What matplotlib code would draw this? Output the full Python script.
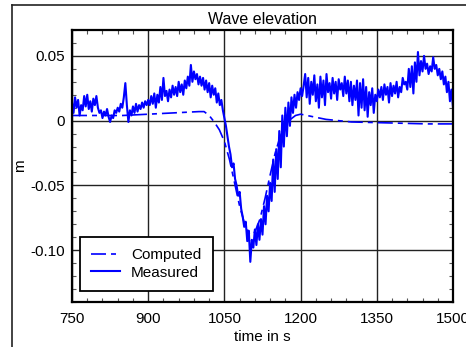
import numpy as np
import matplotlib
matplotlib.use("Agg")
import matplotlib.pyplot as plt
from matplotlib.lines import Line2D
from matplotlib.ticker import MultipleLocator

plt.rcParams['font.family'] = ['Liberation Sans', 'DejaVu Sans']
plt.rcParams['font.size'] = 11

# measured wave elevation, sampled every 3 s from 750 s to 1500 s
t_measured = np.arange(750, 1501, 3)
measured = [
    0.014, 0.006, 0.018, 0.010, 0.016, 0.004, 0.012, 0.008, 0.019, 0.011, 0.020, 0.009, 0.015, 0.007, 0.017, 0.012, 0.019,
    0.010, 0.006, 0.008, 0.002, 0.007, 0.004, 0.009, 0.003, -0.001, 0.004, 0.002, 0.008, 0.006, 0.010, 0.007, 0.013, 0.010,
    0.018, 0.029, 0.012, -0.001, 0.008, 0.004, 0.011, 0.006, 0.013, 0.007, 0.012, 0.009, 0.014, 0.010, 0.015, 0.012, 0.016,
    0.012, 0.019, 0.013, 0.021, 0.010, 0.020, 0.014, 0.026, 0.016, 0.033, 0.019, 0.023, 0.015, 0.024, 0.018, 0.027, 0.020,
    0.026, 0.019, 0.030, 0.022, 0.028, 0.020, 0.031, 0.025, 0.034, 0.027, 0.043, 0.030, 0.038, 0.032, 0.036, 0.028, 0.034,
    0.027, 0.033, 0.024, 0.031, 0.022, 0.029, 0.018, 0.027, 0.020, 0.025, 0.014, 0.021, 0.012, 0.016, 0.008, 0.002, -0.004,
    -0.012, -0.020, -0.026, -0.036, -0.033, -0.045, -0.050, -0.058, -0.055, -0.068, -0.074, -0.082, -0.078, -0.093, -0.085, -0.109, -0.092,
    -0.098, -0.084, -0.096, -0.080, -0.092, -0.076, -0.088, -0.066, -0.080, -0.058, -0.070, -0.048, -0.062, -0.030, -0.055, -0.022, -0.045,
    -0.008, -0.036, 0.004, -0.020, 0.010, -0.012, 0.014, -0.004, 0.018, 0.006, 0.020, 0.010, 0.022, 0.016, 0.025, 0.019, 0.027,
    0.036, 0.018, 0.033, 0.013, 0.030, 0.020, 0.035, 0.015, 0.028, 0.010, 0.034, 0.018, 0.031, 0.012, 0.036, 0.022, 0.029,
    0.017, 0.033, 0.021, 0.030, 0.016, 0.032, 0.024, 0.029, 0.019, 0.034, 0.021, 0.031, 0.015, 0.030, 0.012, 0.027, 0.016,
    0.031, 0.004, 0.029, 0.010, 0.032, 0.008, 0.026, 0.003, 0.022, 0.012, 0.025, 0.006, 0.020, 0.015, 0.024, 0.018, 0.026,
    0.016, 0.028, 0.020, 0.026, 0.014, 0.029, 0.019, 0.027, 0.021, 0.030, 0.018, 0.026, 0.022, 0.033, 0.028, 0.030, 0.024,
    0.040, 0.026, 0.042, 0.021, 0.045, 0.030, 0.053, 0.035, 0.046, 0.038, 0.050, 0.040, 0.044, 0.036, 0.042, 0.038, 0.049,
    0.040, 0.043, 0.035, 0.040, 0.032, 0.038, 0.028, 0.034, 0.022, 0.030, 0.015, 0.024, 0.010,
]

# computed wave elevation
t_computed = [750, 800, 850, 900, 950, 1000, 1010, 1020, 1030, 1040, 1050, 1060, 1070,
              1080, 1090, 1100, 1110, 1120, 1130, 1140, 1150, 1160, 1170, 1180, 1190,
              1200, 1225, 1250, 1300, 1350, 1400, 1450, 1500]
computed = [0.004, 0.004, 0.004, 0.005, 0.006, 0.007, 0.007, 0.004, -0.001, -0.007,
            -0.016, -0.030, -0.048, -0.066, -0.080, -0.088, -0.086, -0.076, -0.060,
            -0.042, -0.025, -0.012, -0.004, 0.001, 0.004, 0.005, 0.003, 0.001, -0.001,
            -0.0015, -0.002, -0.0025, -0.0025]

xticks = [750, 900, 1050, 1200, 1350, 1500]
yticks = [-0.10, -0.05, 0.0, 0.05]
ytick_labels = ['-0.10', '-0.05', '0', '0.05']

W, H = 466, 347
fig = plt.figure(figsize=(W / 100, H / 100), dpi=100)
ax = fig.add_axes([72 / W, 1 - 302 / H, (453 - 72) / W, (302 - 30) / H])

ax.plot(t_computed, computed, color='blue', lw=1.2, ls=(0, (9, 3, 3, 3)), label='Computed')
ax.plot(t_measured, measured, color='blue', lw=1.5, label='Measured')

ax.set_xlim(750, 1500)
ax.set_ylim(-0.14, 0.07)
ax.set_xticks(xticks)
ax.set_xticklabels([str(v) for v in xticks])
ax.set_yticks(yticks)
ax.set_yticklabels(ytick_labels)
ax.xaxis.set_minor_locator(MultipleLocator(30))
ax.yaxis.set_minor_locator(MultipleLocator(0.01))
ax.tick_params(which='both', direction='in', top=True, right=True)
ax.tick_params(which='major', length=0, labelsize=11)
ax.tick_params(axis='y', which='major', pad=5)
ax.tick_params(axis='x', which='major', pad=7)
ax.tick_params(which='minor', length=3, width=0.8, color='#555555')

ax.grid(True, which='major', color='#222222', lw=1.0)
for side in ax.spines.values():
    side.set_linewidth(1.6)

ax.set_title('Wave elevation', fontsize=11.5, pad=4)
ax.set_xlabel('time in s', fontsize=11, labelpad=3)
ax.set_ylabel('m', fontsize=11)
ax.yaxis.set_label_coords((27 - 72) / (453 - 72), 0.5)

leg = ax.legend(loc='lower left', bbox_to_anchor=((80 - 72) / 381, (302 - 291) / 272),
                borderaxespad=0, fancybox=False, framealpha=1, edgecolor='black',
                handlelength=1.9, handletextpad=0.7, labelspacing=0.2, borderpad=0.75)
leg.get_frame().set_linewidth(1.3)

# outer frame around the whole plot
fig.add_artist(Line2D([12 / W, 12 / W], [0, 1 - 5 / H], transform=fig.transFigure, color='#222222', lw=1.2))
fig.add_artist(Line2D([12 / W, 1], [1 - 5 / H, 1 - 5 / H], transform=fig.transFigure, color='#222222', lw=1.2))

fig.savefig('out.png', dpi=100)
